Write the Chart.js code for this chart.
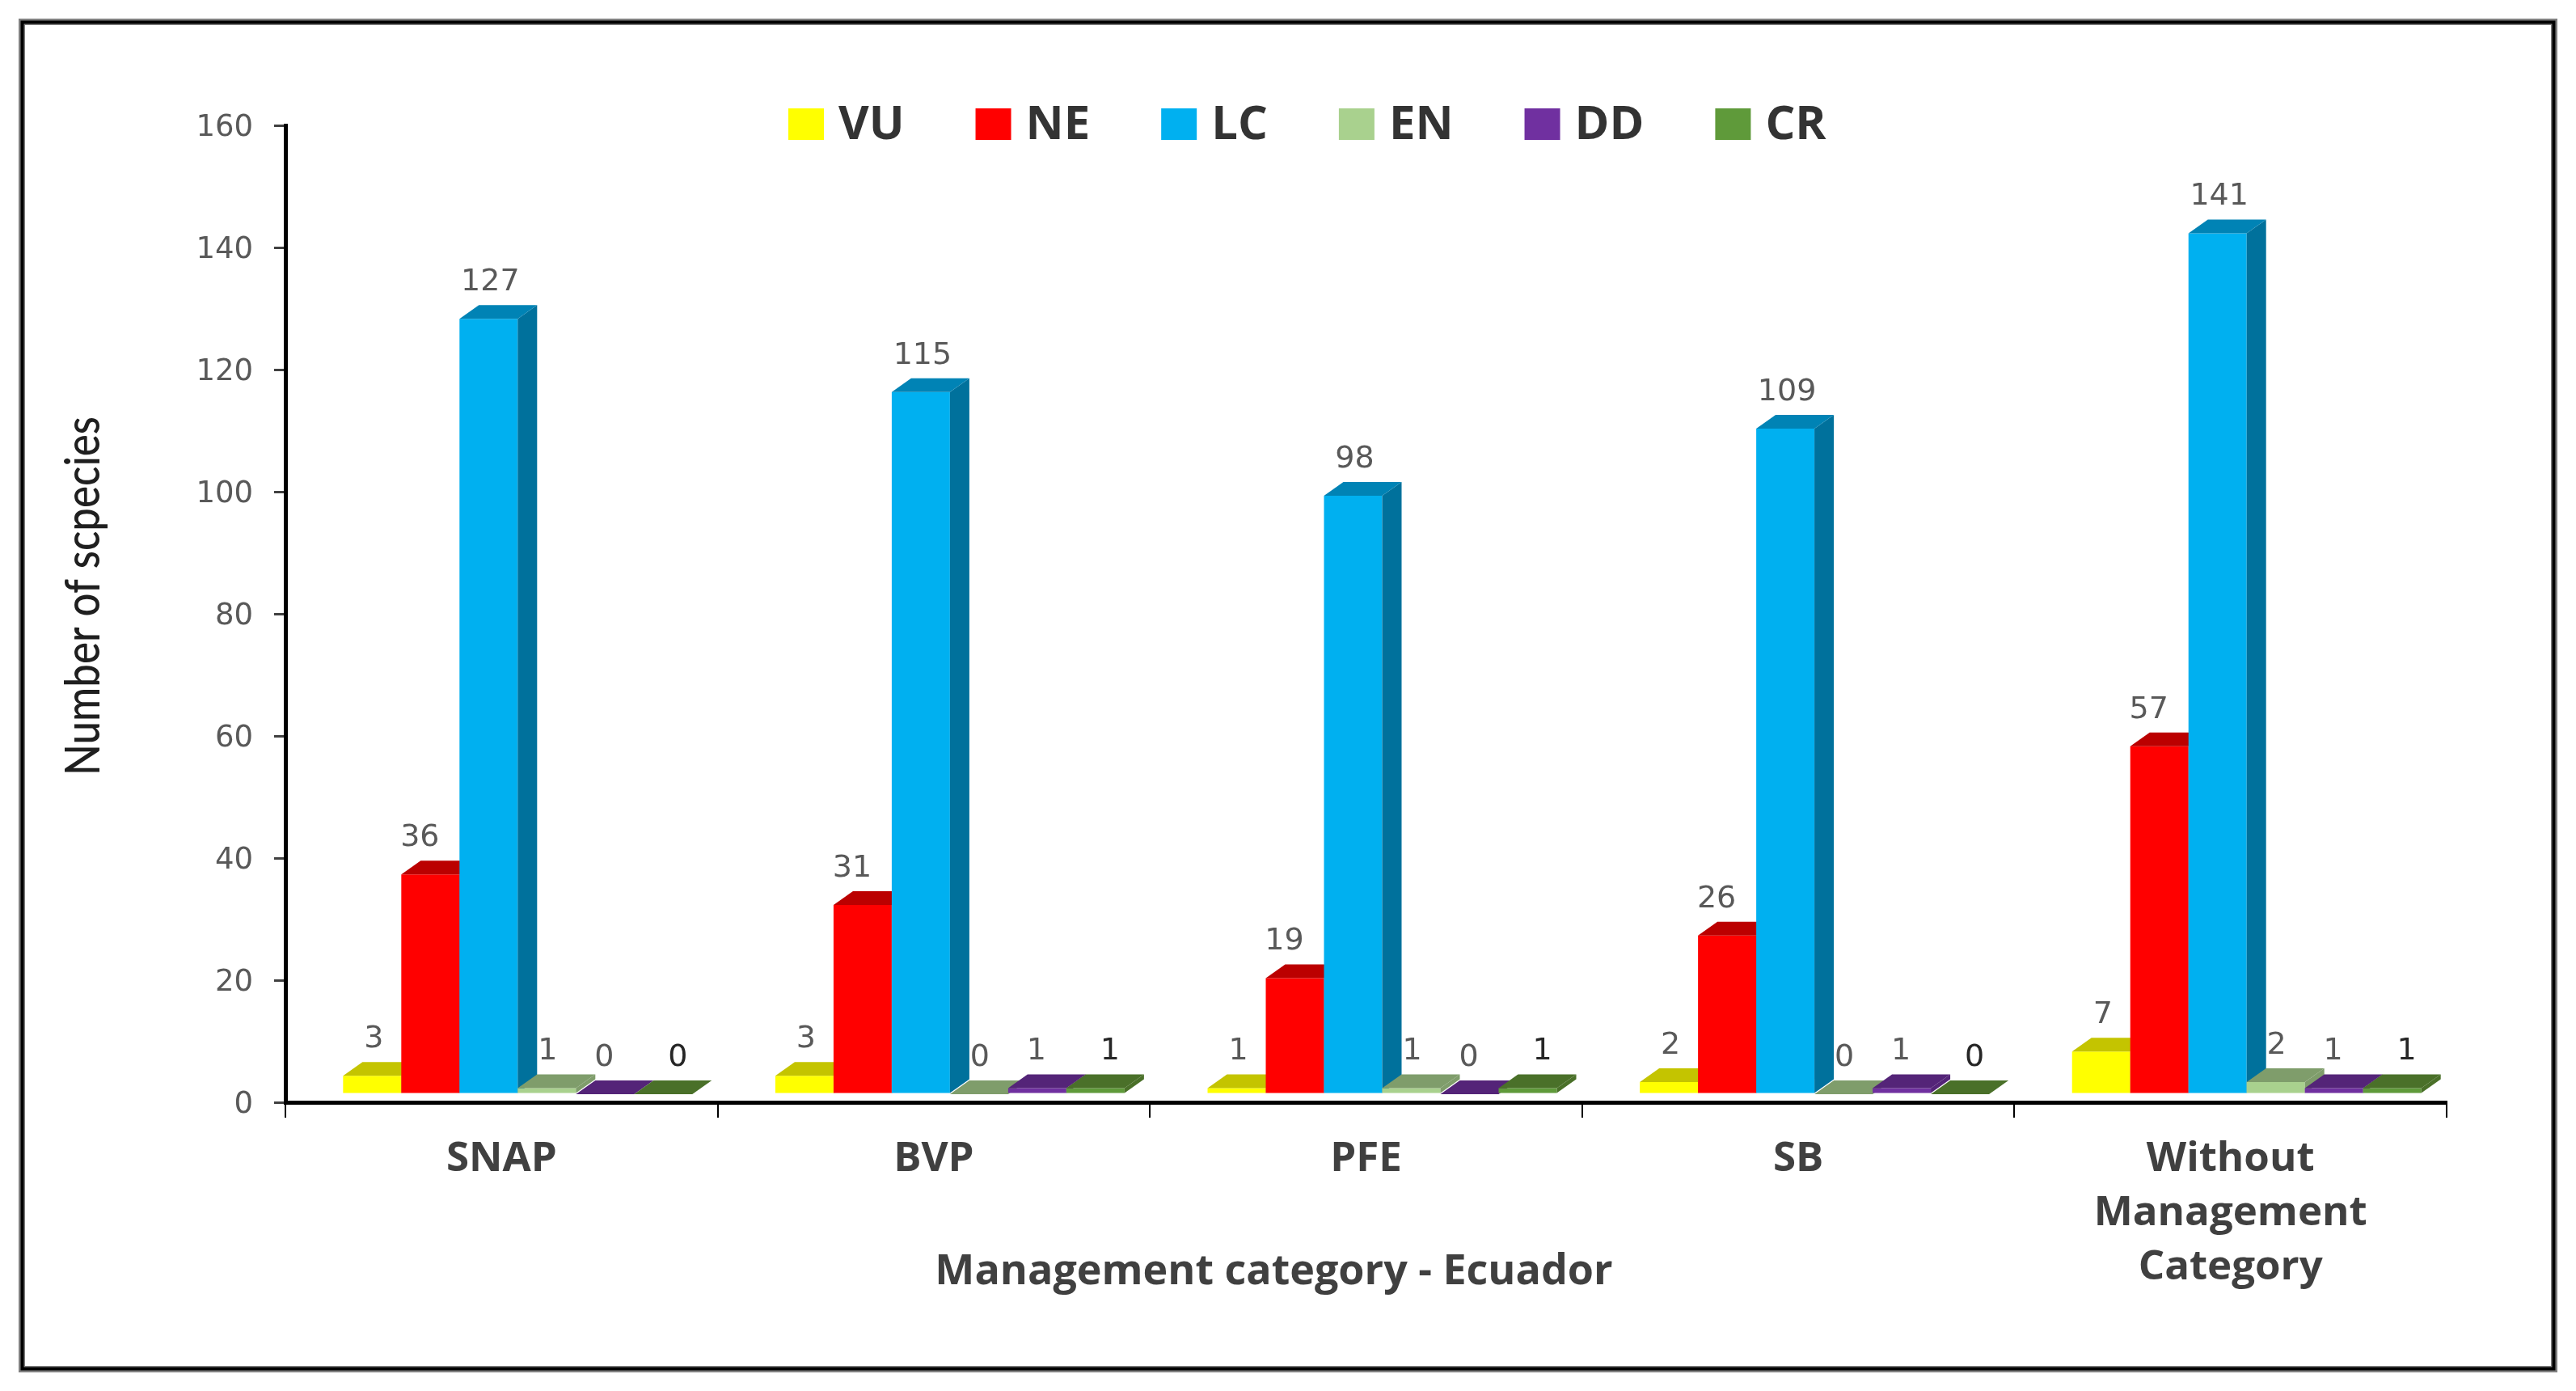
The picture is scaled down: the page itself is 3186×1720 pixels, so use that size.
<!DOCTYPE html>
<html>
<head>
<meta charset="utf-8">
<title>Species by management category</title>
<script src="https://cdn.jsdelivr.net/npm/chart.js@4/dist/chart.umd.min.js"></script>
<style>
  html, body { margin: 0; padding: 0; background: #fff; }
  canvas { display: block; }
</style>
</head>
<body>
<canvas id="chart" width="3186" height="1720"></canvas>
<script>
const categories = ['SNAP', 'BVP', 'PFE', 'SB', ['Without', 'Management', 'Category']];
const seriesNames = ['VU', 'NE', 'LC', 'EN', 'DD', 'CR'];
const vu = [3, 3, 1, 2, 7];
const ne = [36, 31, 19, 26, 57];
const lc = [127, 115, 98, 109, 141];
const en = [1, 0, 1, 0, 2];
const dd = [0, 1, 0, 1, 1];
const cr = [0, 1, 1, 0, 1];
const yMax = 160;
const yStep = 20;

const seriesValues = [vu, ne, lc, en, dd, cr];
const frontColors = ['#ffff00', '#ff0000', '#00b0f0', '#a9d18e', '#7030a0', '#5f9a3a'];
const topColors = ['#c4c400', '#bb0000', '#0083b5', '#7f9d6b', '#542478', '#4a7029'];
const sideColors = ['#c4c400', '#bb0000', '#00719c', '#7f9d6b', '#542478', '#4a7029'];
const labelColors = ['#595959', '#595959', '#595959', '#595959', '#595959', '#262626'];
const labelShift = [2, -13, 2, 1, -1, 18];

const depthX = 24;
const depthY = 17;
const barShiftX = 20;
const barShiftY = -10;

// moves an axis title off the middle of its axis, squeezeY makes it shorter along y
function shiftTitle(scale, dx, dy, squeezeY) {
  const drawTitle = scale.constructor.prototype.drawTitle;
  scale.drawTitle = function () {
    const ctx = this.ctx;
    const midY = (this.top + this.bottom) / 2;
    ctx.save();
    ctx.translate(dx, midY + dy);
    ctx.scale(1, squeezeY);
    ctx.translate(0, -midY);
    drawTitle.call(this);
    ctx.restore();
  };
}

const framePlugin = {
  id: 'frame',
  beforeDraw(chart) {
    const ctx = chart.ctx;
    ctx.save();
    ctx.strokeStyle = '#808080';
    ctx.lineWidth = 8;
    ctx.strokeRect(27, 27, 3132, 1666);
    ctx.strokeStyle = '#000000';
    ctx.lineWidth = 4;
    ctx.strokeRect(27.5, 27.5, 3131, 1665);
    ctx.restore();
  }
};

function drawFaces(ctx, meta, i) {
  meta.data.forEach(bar => {
    const left = bar.x - bar.width / 2;
    const right = bar.x + bar.width / 2;
    ctx.fillStyle = sideColors[i];
    ctx.beginPath();
    ctx.moveTo(right, bar.y);
    ctx.lineTo(right + depthX, bar.y - depthY);
    ctx.lineTo(right + depthX, bar.base - depthY);
    ctx.lineTo(right, bar.base);
    ctx.closePath();
    ctx.fill();
    ctx.fillStyle = topColors[i];
    ctx.beginPath();
    ctx.moveTo(left, bar.y);
    ctx.lineTo(left + depthX, bar.y - depthY);
    ctx.lineTo(right + depthX, bar.y - depthY);
    ctx.lineTo(right, bar.y);
    ctx.closePath();
    ctx.fill();
  });
}

// fake 3D look as in the Excel original. Series are painted left to right here,
// because chart.js would otherwise paint the last one first
const bars3dPlugin = {
  id: 'bars3d',
  beforeDatasetsDraw(chart) {
    const ctx = chart.ctx;
    ctx.save();
    ctx.translate(barShiftX, barShiftY);
    chart.data.datasets.forEach((dataset, i) => {
      const meta = chart.getDatasetMeta(i);
      meta.controller.draw();
      drawFaces(ctx, meta, i);
    });
    ctx.font = '38px "DejaVu Sans"';
    ctx.textAlign = 'center';
    ctx.textBaseline = 'middle';
    chart.data.datasets.forEach((dataset, i) => {
      ctx.fillStyle = labelColors[i];
      chart.getDatasetMeta(i).data.forEach((bar, j) => {
        ctx.fillText(dataset.data[j], bar.x + labelShift[i], bar.y - 45);
      });
    });
    ctx.restore();
    return false;
  }
};

const legendPlugin = {
  id: 'topLegend',
  afterDraw(chart) {
    const ctx = chart.ctx;
    let x = 975;
    ctx.save();
    ctx.font = 'bold 58px "Open Sans"';
    ctx.textAlign = 'left';
    ctx.textBaseline = 'middle';
    chart.data.datasets.forEach(dataset => {
      ctx.fillStyle = dataset.backgroundColor;
      ctx.fillRect(x, 134, 44, 39);
      ctx.fillStyle = '#333333';
      ctx.fillText(dataset.label, x + 62, 155);
      x += 62 + ctx.measureText(dataset.label).width + 88;
    });
    ctx.restore();
  }
};

new Chart(document.getElementById('chart'), {
  type: 'bar',
  data: {
    labels: categories,
    datasets: seriesNames.map((name, i) => ({
      label: name,
      data: seriesValues[i],
      backgroundColor: frontColors[i],
      borderWidth: 0,
      categoryPercentage: 0.808,
      barPercentage: 1
    }))
  },
  options: {
    responsive: false,
    animation: false,
    layout: { padding: { left: 0, right: 160, top: 155, bottom: 0 } },
    plugins: {
      legend: { display: false },
      tooltip: { enabled: false }
    },
    scales: {
      x: {
        afterFit(scale) {
          scale.height = 357;
          shiftTitle(scale, -114, 0, 1);
        },
        grid: {
          display: true,
          drawOnChartArea: false,
          color: '#000000',
          lineWidth: 2,
          tickLength: 19
        },
        border: { display: true, color: '#000000', width: 5 },
        ticks: {
          color: '#404040',
          font: { family: '"Open Sans"', weight: 'bold', size: 51, lineHeight: 1.31 },
          padding: 18,
          maxRotation: 0,
          minRotation: 0,
          autoSkip: false
        },
        title: {
          display: true,
          text: 'Management category - Ecuador',
          color: '#404040',
          font: { family: '"Open Sans"', weight: 'bold', size: 52 },
          padding: { top: 0, bottom: 116 }
        }
      },
      y: {
        min: 0,
        max: yMax,
        afterFit(scale) {
          scale.width = 353;
          shiftTitle(scale, 68, -22, 0.85);
        },
        grid: {
          display: true,
          drawOnChartArea: false,
          color: '#404040',
          lineWidth: 3,
          tickLength: 14
        },
        border: { display: true, color: '#000000', width: 5 },
        ticks: {
          stepSize: yStep,
          color: '#595959',
          font: { family: '"DejaVu Sans"', size: 37 },
          padding: 26,
          labelOffset: 3
        },
        title: {
          display: true,
          text: 'Number of scpecies',
          color: '#1f1f1f',
          font: { family: 'Lato', weight: '500', size: 60 },
          padding: { top: 0, bottom: 0 }
        }
      }
    }
  },
  plugins: [framePlugin, bars3dPlugin, legendPlugin]
});
</script>
</body>
</html>
